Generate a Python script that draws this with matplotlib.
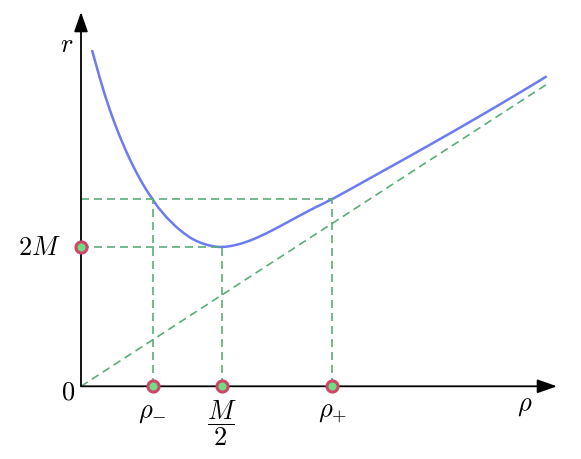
import matplotlib
matplotlib.use("Agg")
import matplotlib.pyplot as plt
from matplotlib.path import Path
from matplotlib.patches import PathPatch

plt.rcParams['mathtext.fontset'] = 'cm'

# Curve r(rho) (units with M = 1)
rho = [0.0391, 0.0680, 0.1007, 0.1377, 0.1783, 0.2228, 0.2552, 0.2712, 0.3231,
       0.3786, 0.4075, 0.4377, 0.4698, 0.5000, 0.5480, 0.6014, 0.6548, 0.7082,
       0.7794, 0.8327, 0.8943, 1.0107, 1.1292, 1.2480, 1.3665, 1.4851, 1.6039,
       1.6573]
r = [4.839, 4.410, 3.991, 3.591, 3.220, 2.882, 2.691, 2.587, 2.344,
     2.161, 2.095, 2.045, 2.014, 2.000, 2.026, 2.093, 2.190, 2.302,
     2.459, 2.573, 2.691, 2.954, 3.220, 3.489, 3.763, 4.042, 4.328,
     4.460]

# dashed line through origin
line_rho = [0.0, 1.661]
line_r = [0.0, 4.354]

rho_minus, rho_mid, rho_plus = 0.2552, 0.5, 0.8943
r_min, r_level = 2.0, 2.691

blue = '#6b7bf0'
green = '#5aae78'
edge = '#cf4766'
face = '#6fdc86'

fig = plt.figure(figsize=(5.81, 4.60), dpi=100)
ax = fig.add_axes([0, 0, 1, 1])
ax.set_xlim(-81/281, 500/281)
ax.set_ylim((387.3-460)/69.5, 387.3/69.5)
ax.axis('off')

dash = dict(color=green, lw=1.2, dashes=(4.8, 3.0))
ax.plot(line_rho, line_r, **dash)
ax.plot([0, rho_plus], [r_level, r_level], **dash)
ax.plot([rho_minus, rho_minus], [0, r_level], **dash)
ax.plot([rho_plus, rho_plus], [0, r_level], **dash)
ax.plot([0, rho_mid], [r_min, r_min], **dash)
ax.plot([rho_mid, rho_mid], [0, r_min], **dash)

# smooth rendering of the read points (quadratic Bezier through midpoints)
pts = list(zip(rho, r))
verts = [pts[0]]
codes = [Path.MOVETO]
for i in range(1, len(pts) - 1):
    mid = ((pts[i][0] + pts[i+1][0]) / 2, (pts[i][1] + pts[i+1][1]) / 2)
    if i == len(pts) - 2:
        mid = pts[-1]
    verts += [pts[i], mid]
    codes += [Path.CURVE3, Path.CURVE3]
ax.add_patch(PathPatch(Path(verts, codes), fill=False, edgecolor=blue, lw=1.8,
                       capstyle='butt'))

# axes arrows
ax.annotate('', xy=(476/281, 0), xytext=(0, 0),
            arrowprops=dict(arrowstyle='-|>,head_length=1.2,head_width=0.42',
                            color='black', lw=1.3, shrinkA=0, shrinkB=0))
ax.annotate('', xy=(0, (387.3-13)/69.5), xytext=(0, 0),
            arrowprops=dict(arrowstyle='-|>,head_length=1.2,head_width=0.42',
                            color='black', lw=1.3, shrinkA=0, shrinkB=0))

mk = dict(marker='o', ms=8, mfc=face, mec=edge, mew=2.2, ls='none', zorder=5, clip_on=False)
ax.plot([0, rho_minus, rho_mid, rho_plus], [r_min, 0, 0, 0], **mk)

fs = 19
ax.text(-14/281, (387.3-45)/69.5, r'$r$', fontsize=fs, ha='center', va='center')
ax.text(444/281, (387.3-405)/69.5, r'$\rho$', fontsize=fs, ha='center', va='center')
ax.text(-13/281, (387.3-393)/69.5, r'$0$', fontsize=fs, ha='center', va='center')
ax.text(-20/281, r_min, r'$2M$', fontsize=fs, ha='right', va='center')
ax.text(rho_minus, (387.3-412)/69.5, r'$\rho_{-}$', fontsize=fs, ha='center', va='center')
ax.text(rho_plus, (387.3-412)/69.5, r'$\rho_{+}$', fontsize=fs, ha='center', va='center')
ax.text(rho_mid, (387.3-423)/69.5, r'$\dfrac{M}{2}$', fontsize=fs, ha='center', va='center')

fig.savefig('out.png', dpi=100)
